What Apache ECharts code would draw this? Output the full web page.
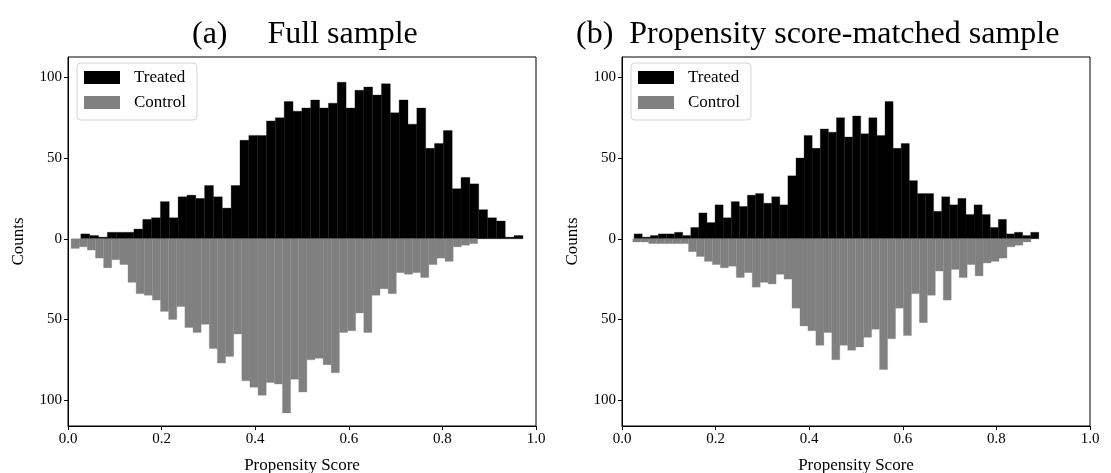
<!DOCTYPE html>
<html>
<head>
<meta charset="utf-8">
<script src="https://cdn.jsdelivr.net/npm/echarts@6/dist/echarts.min.js"></script>
<style>
  html, body { margin: 0; padding: 0; background: #fff; }
  #chart { width: 1111px; height: 473px; }
</style>
</head>
<body>
<div id="chart"></div>
<script>
// Propensity score histograms: treated counts point up, control counts point down.
const BINS = 50;

// counts per bin, (a) full sample
const treatedFull = [3, 2, 1, 4, 4, 4, 6, 12, 13, 23, 13, 26, 27, 25, 33, 26, 19, 33, 61, 64,
  64, 73, 75, 85, 79, 81, 86, 81, 84, 97, 81, 92, 94, 89, 96, 78, 86, 71, 81, 56,
  59, 67, 31, 38, 34, 18, 13, 11, 1, 2];
const controlFull = [6, 5, 7, 12, 18, 13, 16, 27, 34, 35, 38, 45, 50, 42, 55, 58, 53, 68, 77, 73,
  59, 88, 92, 97, 89, 90, 108, 87, 95, 75, 74, 78, 83, 58, 57, 46, 58, 35, 31, 34,
  21, 22, 21, 24, 16, 12, 14, 5, 4, 3];

// counts per bin, (b) propensity score-matched sample
const treatedMatched = [3, 1, 2, 3, 3, 4, 2, 7, 16, 10, 21, 13, 23, 20, 27, 28, 22, 26, 21, 39,
  50, 64, 56, 68, 66, 75, 63, 76, 65, 75, 64, 85, 56, 59, 36, 28, 28, 17, 26, 21,
  25, 15, 21, 15, 7, 12, 3, 4, 2, 4];
const controlMatched = [2, 2, 3, 3, 3, 3, 3, 8, 11, 14, 16, 18, 17, 24, 21, 30, 27, 28, 22, 25,
  43, 54, 57, 66, 58, 75, 66, 69, 67, 61, 56, 81, 62, 43, 60, 34, 52, 35, 20, 38,
  19, 24, 16, 23, 15, 14, 12, 5, 4, 2];

// score range [min, max] of each group; the 50 bins split it evenly
const treatedFullRange = [0.0274, 0.9721];
const controlFullRange = [0.0066, 0.8752];
const treatedMatchedRange = [0.0259, 0.8906];
const controlMatchedRange = [0.0231, 0.8736];

const xTicks = [0, 0.2, 0.4, 0.6, 0.8, 1.0];
const yTicks = [-100, -50, 0, 50, 100];
const panelTitles = ['(a)     Full sample', '(b)  Propensity score-matched sample'];
const legendNames = ['Treated', 'Control'];

const SERIF = '"Liberation Serif", "DejaVu Serif", serif';

function histRows(counts, range, sign) {
  const w = (range[1] - range[0]) / BINS;
  return counts.map((c, i) => [range[0] + i * w, range[0] + (i + 1) * w, sign * c]);
}

function renderBar(params, api) {
  const p0 = api.coord([api.value(0), 0]);
  const p1 = api.coord([api.value(1), api.value(2)]);
  const color = api.visual('color');
  return {
    type: 'rect',
    shape: {
      x: p0[0],
      y: Math.min(p0[1], p1[1]),
      width: p1[0] - p0[0],
      height: Math.abs(p1[1] - p0[1])
    },
    style: { fill: color, stroke: color, lineWidth: 0.3 }
  };
}

function histSeries(name, rows, idx, color) {
  return {
    type: 'custom',
    name: name,
    xAxisIndex: idx,
    yAxisIndex: idx,
    data: rows,
    encode: { x: [0, 1], y: 2 },
    itemStyle: { color: color },
    renderItem: renderBar,
    silent: true
  };
}

const grids = [
  { left: 68, right: 575, top: 57, bottom: 47 },
  { left: 622, right: 21, top: 57, bottom: 47 }
].map(g => Object.assign(g, {
  show: true, borderColor: '#000', borderWidth: 1, backgroundColor: 'transparent',
  outerBoundsMode: 'none', containLabel: false
}));

function xAxis(idx) {
  return {
    type: 'value', gridIndex: idx, min: 0, max: 1, interval: 0.2,
    name: 'Propensity Score', nameLocation: 'middle', nameGap: 31,
    nameTextStyle: { fontFamily: SERIF, fontSize: 17, color: '#000' },
    axisLine: { show: true, onZero: false, lineStyle: { color: '#000', width: 1 } },
    axisTick: { show: true, length: 4, lineStyle: { color: '#000' } },
    axisLabel: { fontFamily: SERIF, fontSize: 15, color: '#000', margin: 6,
      formatter: v => v.toFixed(1) },
    splitLine: { show: false }
  };
}

function yAxis(idx) {
  return {
    type: 'value', gridIndex: idx, min: -116, max: 112.6,
    name: 'Counts', nameLocation: 'middle', nameGap: 41,
    nameTextStyle: { fontFamily: SERIF, fontSize: 17, color: '#000' },
    axisLine: { show: true, lineStyle: { color: '#000', width: 1 } },
    axisTick: { show: true, length: 4, lineStyle: { color: '#000' }, customValues: yTicks },
    axisLabel: { fontFamily: SERIF, fontSize: 15, color: '#000', margin: 6,
      customValues: yTicks, formatter: v => String(Math.abs(v)) },
    splitLine: { show: false }
  };
}

function legend(left) {
  return {
    left: left, top: 63, orient: 'vertical', data: legendNames, icon: 'rect',
    itemWidth: 36, itemHeight: 13, itemGap: 8, selectedMode: false,
    backgroundColor: 'rgba(255,255,255,0.8)', borderColor: '#d4d4d4', borderWidth: 1,
    borderRadius: 4, padding: [6, 11, 9, 7],
    textStyle: { fontFamily: SERIF, fontSize: 17, color: '#000', padding: [0, 0, 0, 9] }
  };
}

const titleStyle = { fontFamily: SERIF, fontSize: 32, fontWeight: 'normal', color: '#000' };

const chart = echarts.init(document.getElementById('chart'), null, { renderer: 'canvas' });
chart.setOption({
  animation: false,
  backgroundColor: '#fff',
  title: [
    { text: panelTitles[0], left: 192, top: 19, padding: 0, textStyle: titleStyle },
    { text: panelTitles[1], left: 576, top: 19, padding: 0, textStyle: titleStyle }
  ],
  legend: [legend(77), legend(631)],
  grid: grids,
  xAxis: [xAxis(0), xAxis(1)],
  yAxis: [yAxis(0), yAxis(1)],
  series: [
    histSeries('Treated', histRows(treatedFull, treatedFullRange, 1), 0, '#000000'),
    histSeries('Control', histRows(controlFull, controlFullRange, -1), 0, '#808080'),
    histSeries('Treated', histRows(treatedMatched, treatedMatchedRange, 1), 1, '#000000'),
    histSeries('Control', histRows(controlMatched, controlMatchedRange, -1), 1, '#808080')
  ]
});
</script>
</body>
</html>
